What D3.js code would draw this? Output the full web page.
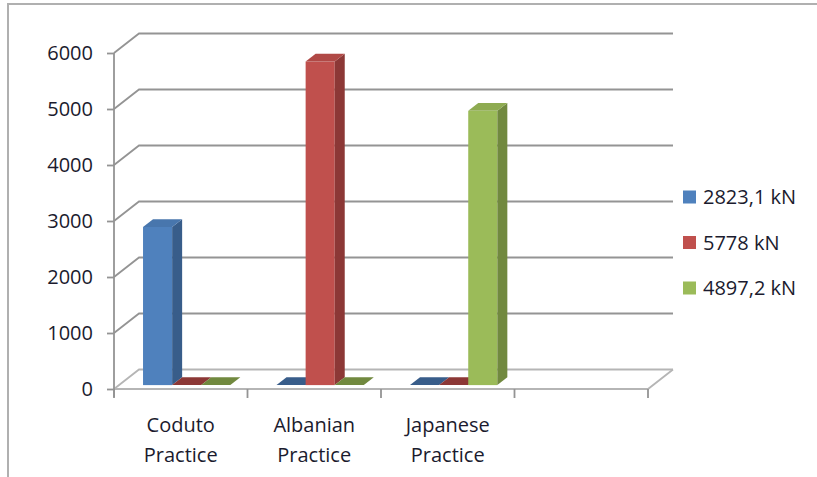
<!DOCTYPE html>
<html><head><meta charset="utf-8">
<script src="https://cdn.jsdelivr.net/npm/d3@7"></script>
<style>html,body{margin:0;padding:0;background:#fff;}svg{display:block;}</style>
</head><body>
<svg id="c" width="817" height="477"></svg>
<script>
const categories = [["Coduto","Practice"],["Albanian","Practice"],["Japanese","Practice"],["",""]];
const seriesNames = ["2823,1 kN","5778 kN","4897,2 kN"];
const seriesValues = [
  [2823.1, 0, 0],
  [0, 5778, 0],
  [0, 0, 4897.2]
];
const yTicks = [0,1000,2000,3000,4000,5000,6000];
const colors = ["#4F81BD","#C0504D","#9BBB59"];
const sideColors = ["#385D8A","#8C3836","#71893F"];

const svg = d3.select("#c");
const font = "'Open Sans', sans-serif";
const fs = 20;

// outer frame
svg.append("rect").attr("x",8).attr("y",4).attr("width",900).attr("height",600)
  .attr("fill","none").attr("stroke","#b0b0b0").attr("stroke-width",2);

const catKeys = categories.map((d,i)=>i);
const x = d3.scaleBand().domain(catKeys).range([114,648]);
const y = d3.scaleLinear().domain([0,6000]).range([389,53]);
const DX = 25, DY = -19.5; // wall depth projection

const grid = svg.append("g");
yTicks.forEach(t=>{
  const yy = y(t);
  grid.append("path")
    .attr("d",`M${x.range()[0]},${yy}L${x.range()[0]+DX},${yy+DY}L${x.range()[1]+DX},${yy+DY}`)
    .attr("fill","none").attr("stroke", t===0?"#b5b5b5":"#949494").attr("stroke-width",1.8);
});
grid.append("path")
  .attr("d",`M${x.range()[0]},${y(0)}L${x.range()[1]},${y(0)}L${x.range()[1]+DX},${y(0)+DY}`)
  .attr("fill","none").attr("stroke","#b5b5b5").attr("stroke-width",1.8);

// y axis
const yAxis = d3.axisLeft(y).tickValues(yTicks).tickSize(7).tickPadding(14).tickFormat(d3.format("d"));
const ya = svg.append("g").attr("transform",`translate(${x.range()[0]},0)`).call(yAxis);
ya.select(".domain").attr("d",`M0,${y(6000)}V${y(0)+8}`).attr("stroke","#949494").attr("stroke-width",1.8);
ya.selectAll(".tick line").attr("stroke","#949494").attr("stroke-width",1.8);
ya.selectAll(".tick text").attr("font-family",font).attr("font-size",fs).attr("fill","#1b1b2e");

// x axis ticks
const xa = svg.append("g");
x.domain().concat([null]).forEach((d,i)=>{
  const xx = i < x.domain().length ? x(d) : x.range()[1];
  xa.append("line").attr("x1",xx).attr("x2",xx).attr("y1",y(0)).attr("y2",y(0)+9)
    .attr("stroke","#949494").attr("stroke-width",1.8);
});
categories.forEach((lines,i)=>{
  const cx = x(i) + x.bandwidth()/2;
  const t = xa.append("text").attr("text-anchor","middle").attr("font-family",font)
    .attr("font-size",fs).attr("fill","#1b1b2e");
  lines.forEach((l,j)=>{
    t.append("tspan").attr("x",cx).attr("y",432+j*30).text(l);
  });
});

// bars
const f0 = 0.2, bd = 0.4;
const sx = DX*f0, sy = DY*f0, bdx = DX*bd, bdy = DY*bd;
const inner = d3.scaleBand().domain(seriesNames.map((d,i)=>i)).range([0, x.bandwidth()*0.654]);
const off = x.bandwidth()*0.18;
const bars = svg.append("g");
seriesValues.forEach((row,ci)=>{
  row.forEach((v,si)=>{
    const x0 = x(ci) + off + sx + inner(si);
    const w = inner.bandwidth();
    const yb = y(0) + sy, yt = y(v) + sy;
    const g = bars.append("g");
    g.append("rect").attr("x",x0).attr("y",yt).attr("width",w).attr("height",yb-yt)
      .attr("fill",colors[si]);
    g.append("path").attr("d",`M${x0+w},${yt}L${x0+w+bdx},${yt+bdy}L${x0+w+bdx},${yb+bdy}L${x0+w},${yb}Z`)
      .attr("fill",sideColors[si]);
    g.append("path").attr("d",`M${x0},${yt}L${x0+bdx},${yt+bdy}L${x0+w+bdx},${yt+bdy}L${x0+w},${yt}Z`)
      .attr("fill", v===0 ? sideColors[si] : d3.color(colors[si]).darker(0.25));
  });
});

// legend
const lg = svg.append("g");
seriesNames.forEach((n,i)=>{
  const cy = 197 + i*45.5;
  lg.append("rect").attr("x",683).attr("y",cy-6.5).attr("width",13).attr("height",13).attr("fill",colors[i]);
  lg.append("text").attr("x",703).attr("y",cy).attr("dy","0.35em").attr("font-family",font)
    .attr("font-size",fs).attr("fill","#1b1b2e").text(n);
});
</script>
</body></html>
